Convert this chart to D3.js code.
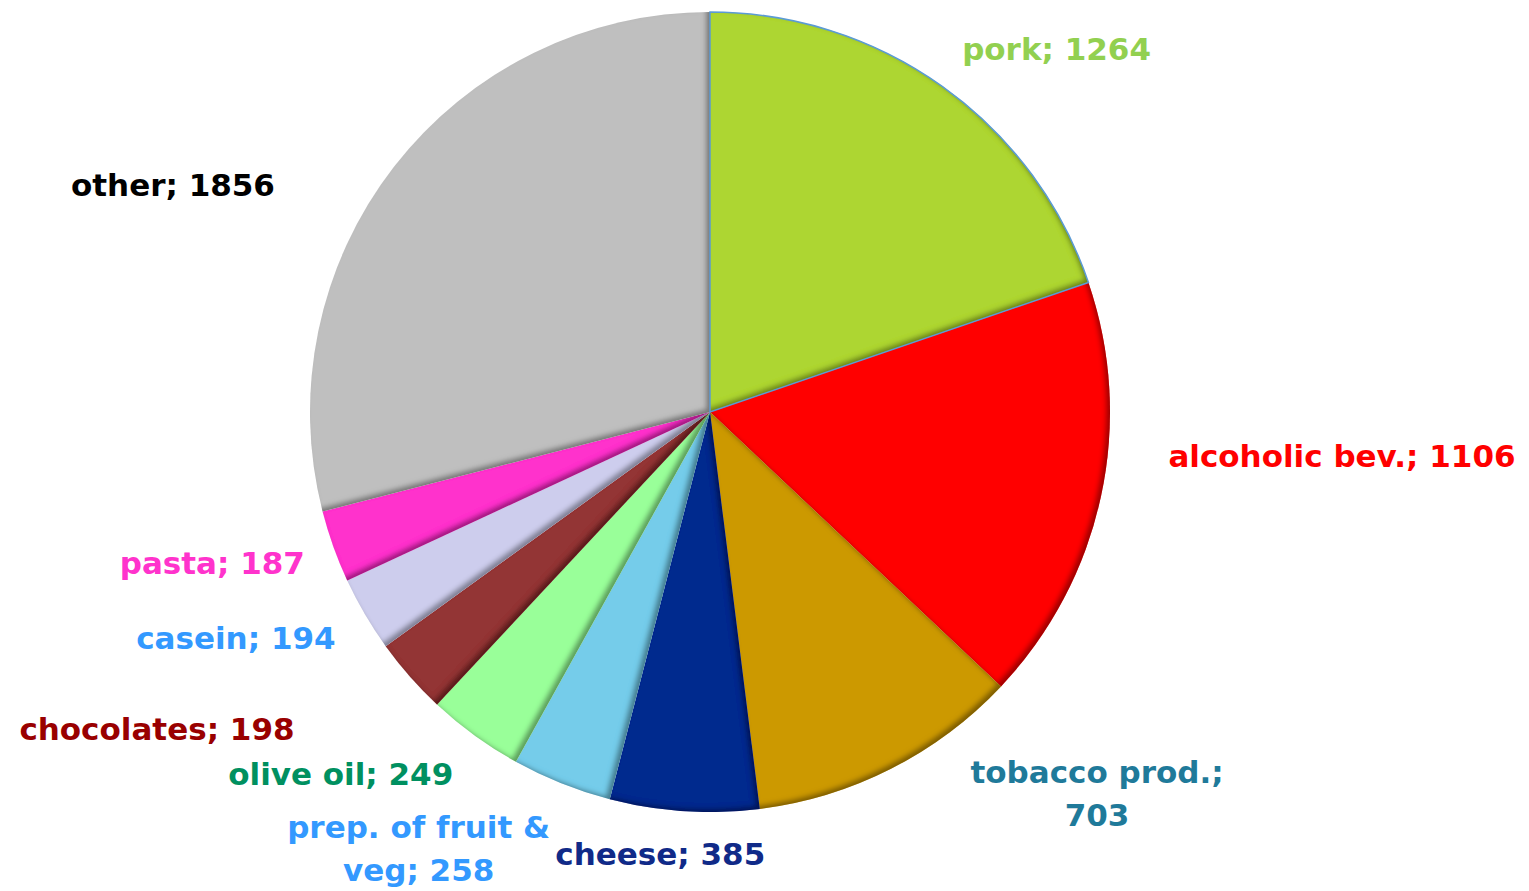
<!DOCTYPE html>
<html>
<head>
<meta charset="utf-8">
<script src="https://cdn.jsdelivr.net/npm/d3@7"></script>
<style>
  html, body { margin: 0; padding: 0; background: #fff; }
  svg { display: block; }
  .lbl { font-family: "DejaVu Sans", sans-serif; font-weight: bold; }
</style>
</head>
<body>
<svg id="chart" width="1529" height="891"></svg>
<script>
// data
const categories = ['pork', 'alcoholic bev.', 'tobacco prod.', 'cheese', 'prep. of fruit & veg',
  'olive oil', 'chocolates', 'casein', 'pasta', 'other'];
const values = [1264, 1106, 703, 385, 258, 249, 198, 194, 187, 1856];
// how the label text breaks into lines
const labelLines = [
  ['pork; 1264'],
  ['alcoholic bev.; 1106'],
  ['tobacco prod.;', '703'],
  ['cheese; 385'],
  ['prep. of fruit &', 'veg; 258'],
  ['olive oil; 249'],
  ['chocolates; 198'],
  ['casein; 194'],
  ['pasta; 187'],
  ['other; 1856']
];

const sliceColors = ['#ADD633', '#FF0000', '#CC9900', '#012B8E', '#75CCEA',
  '#99FF99', '#933434', '#CDCDED', '#FF33CC', '#BFBFBF'];
const labelColors = ['#92D050', '#FF0000', '#1F7A9A', '#102A88', '#3399FF',
  '#009060', '#990000', '#3399FF', '#FF33CC', '#000000'];
// label nudges from the slice edge (Excel "best fit" placement)
const labelNudge = [[114, -38], [241, -41], [206, 25], [-24, 43], [-143, 65],
  [-134, 38], [-253, 52], [-129, 24], [-121, 16], [-221, 18]];

const svg = d3.select('#chart');
const cx = 710, cy = 412, radius = 400;

// inner shadow, light from the upper left
const defs = svg.append('defs');
const f = defs.append('filter').attr('id', 'inner')
  .attr('x', '-20%').attr('y', '-20%').attr('width', '140%').attr('height', '140%');
f.append('feComponentTransfer').attr('in', 'SourceAlpha').attr('result', 'inv')
  .append('feFuncA').attr('type', 'table').attr('tableValues', '1 0');
f.append('feGaussianBlur').attr('in', 'inv').attr('stdDeviation', 2.5).attr('result', 'blur');
f.append('feOffset').attr('in', 'blur').attr('dx', -4).attr('dy', -3).attr('result', 'off');
f.append('feFlood').attr('flood-color', '#000').attr('flood-opacity', 0.65).attr('result', 'col');
f.append('feComposite').attr('in', 'col').attr('in2', 'off').attr('operator', 'in').attr('result', 'sh');
f.append('feComposite').attr('in', 'sh').attr('in2', 'SourceAlpha').attr('operator', 'in').attr('result', 'shin');
const m = f.append('feMerge');
m.append('feMergeNode').attr('in', 'SourceGraphic');
m.append('feMergeNode').attr('in', 'shin');

const pie = d3.pie().sort(null).value(d => d)(values);
const arc = d3.arc().innerRadius(0).outerRadius(radius);

const g = svg.append('g').attr('transform', 'translate(' + cx + ',' + cy + ')');

g.selectAll('path.slice')
  .data(pie)
  .enter()
  .append('path')
  .attr('class', 'slice')
  .attr('d', arc)
  .attr('fill', (d, i) => sliceColors[i])
  .attr('filter', 'url(#inner)');

// the selected pork slice keeps its thin blue outline
g.append('path')
  .attr('d', arc(pie[0]))
  .attr('fill', 'none')
  .attr('stroke', '#5B9BD5')
  .attr('stroke-width', 1.5);

// labels
const fontSize = 31, lineH = 43;
const labels = g.selectAll('text.lbl')
  .data(pie)
  .enter()
  .append('text')
  .attr('class', 'lbl')
  .attr('text-anchor', 'middle')
  .attr('font-size', fontSize)
  .attr('fill', (d, i) => labelColors[i])
  .attr('transform', (d, i) => {
    const a = (d.startAngle + d.endAngle) / 2;
    const x = Math.sin(a) * radius + labelNudge[i][0];
    const y = -Math.cos(a) * radius + labelNudge[i][1];
    return 'translate(' + x + ',' + y + ')';
  });

labels.each(function(d, i) {
  const lines = labelLines[i];
  const t = d3.select(this);
  lines.forEach((s, k) => {
    t.append('tspan')
      .attr('x', 0)
      .attr('y', (k - (lines.length - 1) / 2) * lineH)
      .attr('dy', '0.36em')
      .text(s);
  });
});
</script>
</body>
</html>
